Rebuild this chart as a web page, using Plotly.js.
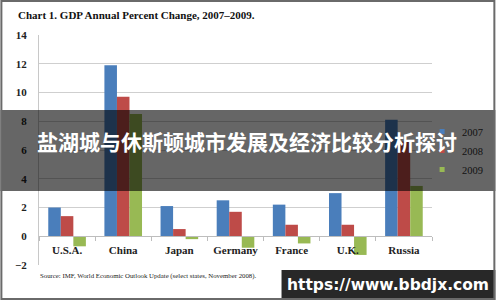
<!DOCTYPE html>
<html>
<head>
<meta charset="utf-8">
<script src="https://cdn.plot.ly/plotly-3.0.1.min.js"></script>
<style>
html,body{margin:0;padding:0;background:#fff;}
#chart{width:500px;height:300px;}
</style>
</head>
<body>
<div id="chart"></div>
<script>
const categories = ["U.S.A.", "China", "Japan", "Germany", "France", "U.K.", "Russia"];
const years = ["2007", "2008", "2009"];
const values2007 = [2.0, 11.9, 2.1, 2.5, 2.2, 3.0, 8.1];
const values2008 = [1.4, 9.7, 0.5, 1.7, 0.8, 0.8, 6.6];
const values2009 = [-0.7, 8.5, -0.2, -0.8, -0.5, -1.3, 3.5];
const yTicks = [-2, 0, 2, 4, 6, 8, 10, 12, 14];
const colors = ["#4A7EBB", "#BE4B48", "#98B954"];

const W = 500, H = 300;
const M = {l: 39, r: 64, t: 35, b: 35};
const PW = W - M.l - M.r, PH = H - M.t - M.b;
const px = x => (x - M.l) / PW;
const py = y => (H - M.b - y) / PH;

const serif = "Liberation Serif, Times New Roman, serif";
const series = [values2007, values2008, values2009];
const traces = series.map((vals, i) => ({
  type: "bar",
  name: years[i],
  x: categories,
  y: vals,
  marker: {color: colors[i], line: {width: 0}},
  showlegend: false,
  hoverinfo: "skip"
}));
// legend-only entries with small square swatches, like the reference
years.forEach((yr, i) => traces.push({
  type: "scatter", mode: "markers", name: yr,
  x: [null], y: [null],
  marker: {symbol: "square", size: 5, color: colors[i]},
  hoverinfo: "skip"
}));

const layout = {
  width: W, height: H,
  margin: M,
  paper_bgcolor: "#fff",
  plot_bgcolor: "#fff",
  barmode: "group",
  bargap: 0.33,
  bargroupgap: 0,
  showlegend: true,
  title: {
    text: "Chart 1. GDP Annual Percent Change, 2007–2009.",
    x: 18 / W, xanchor: "left", xref: "container",
    y: 1 - 15 / H, yanchor: "middle", yref: "container",
    font: {family: serif, size: 11, color: "#111", weight: "bold"}
  },
  xaxis: {
    type: "category",
    anchor: "free",
    position: 2 / 16,
    showline: true, linecolor: "#bdbdbd", linewidth: 1,
    ticks: "outside", tickson: "boundaries", ticklen: 4, tickcolor: "#bdbdbd",
    ticklabelstandoff: 4,
    showgrid: false, zeroline: false,
    tickfont: {family: serif, size: 11, color: "#222", weight: "bold"}
  },
  yaxis: {
    range: [-2, 14],
    tickvals: yTicks,
    showline: true, linecolor: "#c8c8c8", linewidth: 1,
    showgrid: true, gridcolor: "#cfcfcf", gridwidth: 1,
    zeroline: false,
    ticks: "", ticklabelstandoff: 9,
    tickfont: {family: serif, size: 11, color: "#222", weight: "bold"}
  },
  legend: {
    x: px(426), y: py(117), xanchor: "left", yanchor: "top",
    bgcolor: "rgba(0,0,0,0)",
    font: {family: serif, size: 10.5, color: "#111"},
    itemwidth: 30,
    tracegroupgap: 0
  },
  shapes: [
    {type: "rect", xref: "paper", yref: "paper", x0: px(0), x1: px(W), y0: py(110), y1: py(191),
     fillcolor: "rgba(0,0,0,0.6)", line: {width: 0}, layer: "above"},
    {type: "rect", xref: "paper", yref: "paper", x0: px(284), x1: px(W), y0: py(270), y1: py(H),
     fillcolor: "rgba(28,28,28,0.95)", line: {width: 0}, layer: "above"},
    {type: "rect", xref: "paper", yref: "paper", x0: px(1), x1: px(W - 1), y0: py(1), y1: py(H - 1),
     fillcolor: "rgba(0,0,0,0)", line: {width: 2, color: "#6a6a6a"}, layer: "above"}
  ],
  annotations: [
    {text: "Source: IMF, World Economic Outlook Update (select states, November 2008).",
     xref: "paper", yref: "paper", x: px(38), y: py(276), xanchor: "left", yanchor: "middle",
     showarrow: false, font: {family: serif, size: 6.8, color: "#222"}},
    {text: "盐湖城与休斯顿城市发展及经济比较分析探讨",
     xref: "paper", yref: "paper", x: px(249), y: py(141), xanchor: "center", yanchor: "middle",
     showarrow: false, font: {family: "Noto Sans CJK SC", size: 21, color: "#fff", weight: "bold"}},
    {text: "https://www.bbdjx.com",
     xref: "paper", yref: "paper", x: px(392), y: py(285), xanchor: "center", yanchor: "middle",
     showarrow: false, font: {family: "DejaVu Sans", size: 15.5, color: "#fff", weight: "bold"}}
  ]
};

Plotly.newPlot("chart", traces, layout, {displayModeBar: false, staticPlot: true});
</script>
</body>
</html>
